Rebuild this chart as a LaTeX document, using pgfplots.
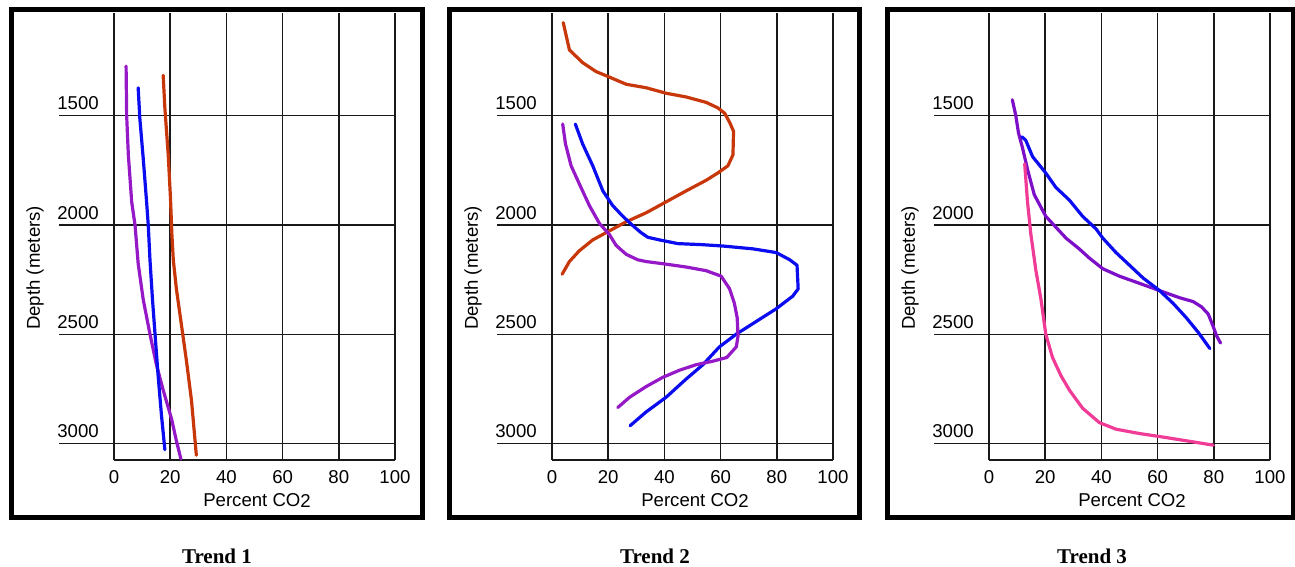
\documentclass[border=0pt]{standalone}
\usepackage{fontspec}
\setmainfont{Liberation Sans}
\newfontfamily\capfont{Liberation Serif}
\usepackage{pgfplots}
\pgfplotsset{compat=1.18}

\definecolor{rust}{RGB}{200,55,10}
\definecolor{blu}{RGB}{12,12,240}
\definecolor{purp}{RGB}{150,25,200}
\definecolor{purp3}{RGB}{125,15,200}
\definecolor{pink}{RGB}{240,60,150}
\definecolor{gridc}{RGB}{25,25,25}

\newcommand{\tickfont}{\fontsize{9.3}{11}\selectfont}

\pgfplotsset{
  trend/.style={
    scale only axis, width=140.5pt, height=223.5pt,
    anchor=south west,
    xmin=0, xmax=100, ymin=1030, ymax=3075, y dir=reverse,
    xtick={0,20,...,100}, ytick={1500,2000,2500,3000},
    axis x line*=bottom, axis y line*=left,
    axis line style={gridc, line width=0.75pt},
    grid=major, grid style={gridc, line width=0.75pt},
    tick align=outside, major tick length=27.5pt,
    xtick style={draw=none},
    ytick style={gridc, line width=0.75pt},
    ticklabel style={font=\tickfont},
    /pgf/number format/assume math mode=true,
    /pgf/number format/1000 sep={},
    % labels are pushed out by the tick length; pull them back
    xticklabel style={anchor=north, inner sep=0pt, yshift=22.5pt},
    yticklabel style={anchor=base west, inner sep=0pt, xshift=-1pt, yshift=3pt},
    xlabel={Percent CO\raisebox{-0.5pt}{2}}, ylabel={Depth (meters)},
    every axis x label/.style={at={(axis description cs:0.509,-0.103)}, anchor=base, font=\tickfont},
    every axis y label/.style={at={(axis description cs:-0.281,0.43)}, rotate=90, anchor=center, font=\tickfont},
    clip=false,
    every axis plot/.append style={line width=1.6pt, line join=round, line cap=round},
  }
}

\begin{document}
\begin{tikzpicture}

% Trend 1
\begin{axis}[trend, at={(57pt,-230pt)}]
\addplot[purp] coordinates {
  (4.3,1273)(4.5,1497)(5.1,1679)(6.3,1894)(7.5,2002)(8.6,2176)(10.4,2341)
  (12.8,2499)(15.1,2639)(17.5,2755)(20.5,2888)(22.2,2987)(23.8,3070)
};
\addplot[blu] coordinates {
  (8.6,1372)(9.2,1513)(10.4,1695)(11.6,1894)(12.2,2002)(12.8,2159)(13.7,2341)
  (14.6,2499)(15.7,2689)(16.9,2871)(18.1,3028)
};
\addplot[rust] coordinates {
  (17.5,1315)(18.1,1464)(19.3,1679)(20.1,1877)(20.6,2043)(21.1,2159)(22.2,2292)
  (24.0,2457)(25.8,2623)(27.6,2805)(29.3,3053)
};
\end{axis}

% Trend 2
\begin{axis}[trend, at={(276pt,-230pt)}]
\addplot[rust] coordinates {
  (4.0,1074)(6.2,1199)(10.9,1257)(15.7,1298)(20.4,1323)(26.4,1356)(33.5,1372)
  (40.6,1397)(47.7,1414)(54.9,1439)(59.0,1464)(61.4,1488)(63.2,1530)(64.6,1571)
  (64.4,1679)(62.6,1729)(59.0,1762)(54.9,1795)(47.7,1844)(40.6,1894)(33.5,1944)
  (26.4,1985)(20.4,2027)(14.5,2068)(9.7,2118)(6.2,2167)(3.6,2225)
};
\addplot[blu] coordinates {
  (8.3,1538)(10.9,1629)(14.5,1729)(18.1,1844)(21.6,1911)(25.2,1960)(28.7,2002)
  (31.7,2035)(34.1,2056)(38.2,2068)(44.8,2085)(53.7,2090)(60.8,2096)(71.5,2109)
  (79.8,2126)(84.6,2159)(87.2,2184)(87.6,2292)(85.7,2325)(79.8,2383)(72.7,2441)
  (65.6,2499)(59.6,2557)(53.7,2639)(47.7,2705)(40.6,2788)(33.5,2855)(27.8,2918)
};
\addplot[purp] coordinates {
  (3.8,1538)(4.8,1629)(6.8,1729)(9.7,1811)(13.3,1911)(16.9,1993)(20.4,2043)
  (22.8,2093)(26.4,2134)(30.5,2159)(33.5,2167)(40.6,2179)(47.7,2192)(54.9,2209)
  (60.2,2234)(63.2,2292)(64.9,2358)(65.9,2424)(66.2,2507)(65.6,2557)(62.2,2606)
  (57.2,2623)(51.3,2639)(45.4,2664)(39.4,2697)(33.5,2739)(27.6,2788)(23.4,2835)
};
\end{axis}

% Trend 3
\begin{axis}[trend, at={(494.5pt,-230pt)}]
\addplot[purp3] coordinates {
  (8.3,1427)(9.5,1497)(10.5,1579)(11.9,1646)(13.7,1745)(16.1,1861)(20.2,1960)
  (23.8,2010)(27.4,2060)(32.1,2109)(35.7,2151)(40.5,2200)(46.4,2234)(53.6,2267)
  (60.7,2300)(67.9,2333)(72.6,2350)(75.6,2374)(78.0,2407)(79.8,2465)(81.0,2507)
  (82.4,2540)
};
\addplot[blu] coordinates {
  (11.7,1596)(13.1,1613)(15.5,1687)(20.2,1762)(23.8,1828)(28.6,1886)(33.3,1960)
  (38.1,2018)(40.5,2060)(45.2,2126)(50.0,2184)(54.8,2242)(60.7,2300)(65.5,2358)
  (70.2,2424)(74.4,2490)(78.6,2565)
};
\addplot[pink] coordinates {
  (12.7,1720)(13.7,1894)(14.9,2043)(16.7,2209)(18.5,2341)(20.2,2499)(22.6,2606)
  (25.6,2689)(28.6,2755)(33.3,2838)(39.3,2904)(45.2,2934)(53.6,2954)(61.9,2970)
  (70.2,2987)(79.8,3007)
};
\end{axis}

\begin{scope}[x=0.5pt, y=-0.5pt]
  \useasboundingbox (0,0) rectangle (1295,567);
  \draw[line width=2.5pt] (11.5,9.5) rectangle (422,517);
  \draw[line width=2.5pt] (449,9.5) rectangle (859,517);
  \draw[line width=2.5pt] (887,9.5) rectangle (1293,517);
  \node[anchor=base, font=\capfont\fontsize{10.5}{12}\selectfont\bfseries] at (217,563) {Trend 1};
  \node[anchor=base, font=\capfont\fontsize{10.5}{12}\selectfont\bfseries] at (655,563) {Trend 2};
  \node[anchor=base, font=\capfont\fontsize{10.5}{12}\selectfont\bfseries] at (1092,563) {Trend 3};
\end{scope}
\end{tikzpicture}
\end{document}
